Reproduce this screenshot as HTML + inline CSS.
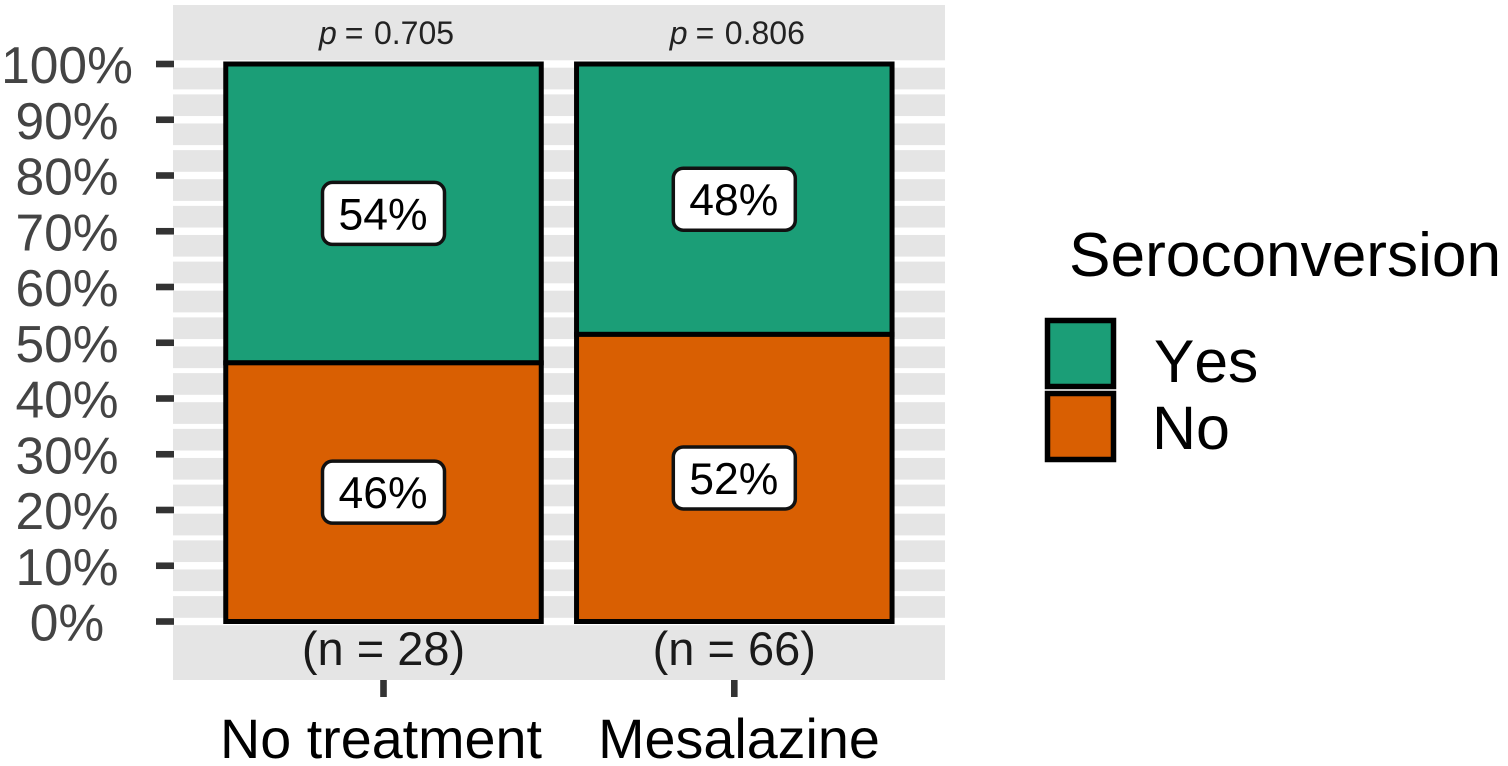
<!DOCTYPE html>
<html>
<head>
<meta charset="utf-8">
<style>
html,body{margin:0;padding:0;background:#fff;width:1508px;height:766px;overflow:hidden}
svg{display:block}
text{font-family:"Liberation Sans",sans-serif}
</style>
</head>
<body>
<svg id="chart" xmlns="http://www.w3.org/2000/svg" width="1508" height="766" viewBox="0 0 1508 766">
  <rect x="173" y="5" width="772" height="675" fill="#e5e5e5"/>
  <g id="grid"></g>
  <g id="bars"></g>
  <g id="labels"></g>
  <g id="yaxis"></g>
  <g id="xaxis"></g>
  <g id="annot"></g>
  <g>
    <text x="1069" y="276" font-size="62.2" fill="#000">Seroconversion</text>
    <rect x="1047.5" y="320.5" width="66" height="66" fill="#1b9e77" stroke="#000" stroke-width="5.5"/>
    <rect x="1047.5" y="393.5" width="66" height="66" fill="#d95f02" stroke="#000" stroke-width="5.5"/>
    <text x="1154" y="382" font-size="60.5" fill="#000" style="font-kerning:none">Yes</text>
    <text x="1152" y="449" font-size="61" fill="#000">No</text>
  </g>
</svg>
<script>
const categories = ["No treatment", "Mesalazine"];
const yesValues = [53.6, 48.5];
const noValues = [46.4, 51.5];
const yesLabels = ["54%", "48%"];
const noLabels = ["46%", "52%"];
const pValues = ["0.705", "0.806"];
const nCounts = ["(n = 28)", "(n = 66)"];
const yTicks = [0, 10, 20, 30, 40, 50, 60, 70, 80, 90, 100];
const yTickLabels = ["0%", "10%", "20%", "30%", "40%", "50%", "60%", "70%", "80%", "90%", "100%"];

const NS = "http://www.w3.org/2000/svg";
const Y0 = 621.5, Y100 = 64;
const X0 = 383.5, XSTEP = 350.8, BARW = 315.5;
function yScale(v) { return Y0 + (Y100 - Y0) * v / 100; }
function xScale(i) { return X0 + XSTEP * i; }
function make(tag, attrs, parent, txt) {
  const el = document.createElementNS(NS, tag);
  for (const k in attrs) el.setAttribute(k, attrs[k]);
  if (txt !== undefined) el.textContent = txt;
  parent.appendChild(el);
  return el;
}
const grid = document.getElementById("grid");
const bars = document.getElementById("bars");
const labels = document.getElementById("labels");
const yaxis = document.getElementById("yaxis");
const xaxis = document.getElementById("xaxis");
const annot = document.getElementById("annot");

yTicks.forEach((t, i) => {
  const y = yScale(t);
  const major = make("rect", {x: 173, y: y - 3.7, width: 772, height: 7.4, fill: "#fff"}, grid);
  
  
  if (i < yTicks.length - 1) {
    const ym = yScale((t + yTicks[i + 1]) / 2);
    const minor = make("rect", {x: 173, y: ym - 2.5, width: 772, height: 5, fill: "#fff"}, grid);
    
    
  }
  const tick = make("rect", {x: 156, y: y - 3.3, width: 18, height: 6.6, fill: "#333"}, yaxis);
  
  
  const lab = make("text", {x: 67, y: y + 19, "text-anchor": "middle", "font-size": 51.5, fill: "#444"}, yaxis, yTickLabels[i]);
  
  
});

categories.forEach((c, i) => {
  const cx = xScale(i);
  const left = cx - BARW / 2;
  const no = noValues[i], yes = yesValues[i];
  const yesRect = make("rect", {x: left, y: yScale(no + yes), width: BARW, height: yScale(no) - yScale(no + yes), fill: "#1b9e77", stroke: "#000", "stroke-width": 5}, bars);
  
  
  const noRect = make("rect", {x: left, y: yScale(no), width: BARW, height: yScale(0) - yScale(no), fill: "#d95f02", stroke: "#000", "stroke-width": 5}, bars);
  
  

  [[no + yes / 2, yesLabels[i]], [no / 2, noLabels[i]]].forEach(([v, s]) => {
    const y = yScale(v);
    const box = make("rect", {x: cx - 61, y: y - 31, width: 122, height: 62, rx: 10, ry: 10, fill: "#fff", stroke: "#111", "stroke-width": 3.5}, labels);
    
    
    const t = make("text", {x: cx - 0.5, y: y + 16, "text-anchor": "middle", "font-size": 44.5, fill: "#000"}, labels, s);
    
    
  });

  const pt = make("text", {x: cx - 64.5, y: 44, "font-size": 32, fill: "#222"}, annot);
  
  
  make("tspan", {"font-style": "italic"}, pt, "p");
  make("tspan", {dx: 8}, pt, "=");
  make("tspan", {dx: 10.5}, pt, pValues[i]);

  const nt = make("text", {x: cx, y: 665, "text-anchor": "middle", "font-size": 47, fill: "#1a1a1a"}, annot, nCounts[i]);
  
  

  const tick = make("rect", {x: cx - 3.3, y: 680, width: 6.6, height: 17, fill: "#333"}, xaxis);
  
  
  const xl = make("text", {x: i === 0 ? 381 : 739, y: 758, "text-anchor": "middle", "font-size": 55.7, fill: "#000"}, xaxis, c);
  
  
});
</script>
</body>
</html>
